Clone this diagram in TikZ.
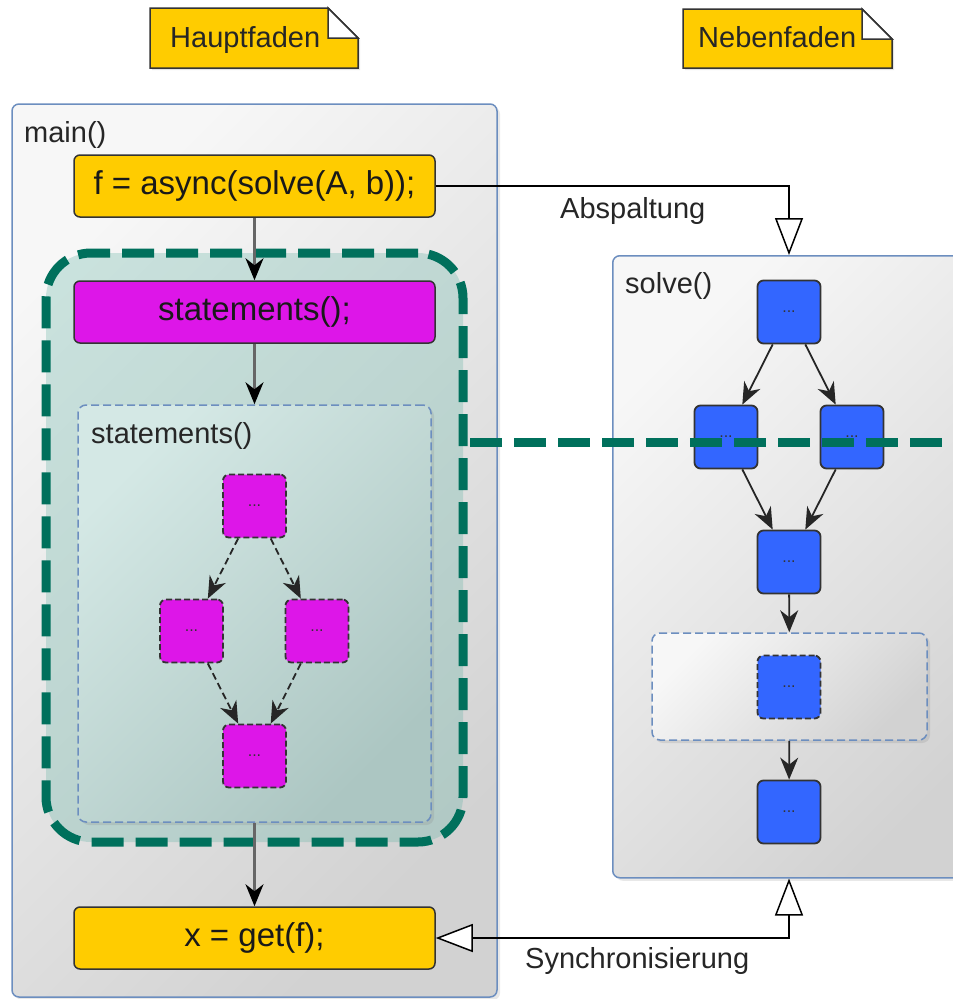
\documentclass[tikz,border=0pt]{standalone}
\usepackage{fontspec}
\setmainfont{Liberation Sans}
\usetikzlibrary{arrows.meta,shadows,calc}

\definecolor{ylw}{RGB}{255,204,0}
\definecolor{mag}{RGB}{221,22,232}
\definecolor{blu}{RGB}{51,102,255}
\definecolor{framec}{RGB}{108,142,191}
\definecolor{grn}{RGB}{0,112,92}
\definecolor{edge}{RGB}{51,51,51}
\definecolor{tealfill}{RGB}{100,180,165}
\definecolor{lite}{RGB}{247,247,247}
\definecolor{dark}{RGB}{210,210,210}
\definecolor{tlA}{RGB}{212,232,229}
\definecolor{tlB}{RGB}{172,198,194}

\tikzset{
  opentri/.tip={Triangle[length=37pt,width=28pt,fill=white,line width=1.5pt]},
}

\begin{document}
\begin{tikzpicture}[x=1pt,y=-1pt,
  lbl/.style={font=\fontsize{29}{34}\selectfont, text=black!85, inner sep=0pt},
  code/.style={font=\fontsize{33}{38}\selectfont, text=black!90, draw=edge, line width=1.5pt,
    rounded corners=6pt, minimum width=361pt, minimum height=62pt, inner sep=0pt},
  dots/.style={font=\fontsize{16}{18}\selectfont, text=black!80},
  container/.style={draw=framec, line width=1.5pt, rounded corners=7pt,
    top color=lite, bottom color=dark, shading angle=45, inner sep=0pt,
    drop shadow={shadow xshift=3pt, shadow yshift=-3pt, opacity=0.18}},
  subbox/.style={draw=framec, line width=1.5pt, dash pattern=on 8pt off 4pt, rounded corners=8pt,
    inner sep=0pt, drop shadow={shadow xshift=3pt, shadow yshift=-3pt, opacity=0.2}},
  cluster/.style={draw=grn, line width=9pt, dash pattern=on 32pt off 12pt, rounded corners=45pt,
    fill=tealfill, fill opacity=0.3, inner sep=0pt},
  cutline/.style={draw=grn, line width=9pt, dash pattern=on 32pt off 12pt},
  sq/.style={minimum size=63pt, rounded corners=6pt, draw=edge, line width=1.8pt, inner sep=0pt,
    dots},
  magsq/.style={sq, fill=mag, dash pattern=on 6pt off 3pt},
  blusq/.style={sq, fill=blu},
  notepaper/.style={fill=ylw, draw=edge, line width=1.5pt, line join=miter,
    drop shadow={shadow xshift=2pt, shadow yshift=-2pt, opacity=0.2}},
  notefold/.style={fill=white, draw=edge, line width=1.5pt},
  flowc/.style={draw=black!60, line width=2.2pt, -{Stealth[length=22pt,width=18pt,inset=7pt,color=black]}},
  inarr/.style={draw=black!85, line width=1.8pt, -{Stealth[length=22pt,width=18pt,inset=7pt]}},
  dasharr/.style={inarr, dash pattern=on 7pt off 4pt},
  thread/.style={draw=black, line width=2.4pt},
]
\useasboundingbox (0,0) rectangle (953,999);
\begin{scope}
\clip (0,0) rectangle (953,999);
\fill[white] (0,0) rectangle (953,999);

% thread notes
\draw[notepaper] (150,8) -- (328,8) -- (358,38) -- (358,68) -- (150,68) -- cycle;
\filldraw[notefold] (328,8) -- (328,38) -- (358,38) -- cycle;
\node[lbl, anchor=base west] (hf) at (170,47) {Hauptfaden};

\draw[notepaper] (683,9) -- (862,9) -- (892,39) -- (892,68) -- (683,68) -- cycle;
\filldraw[notefold] (862,9) -- (862,39) -- (892,39) -- cycle;
\node[lbl, anchor=base west] (nf) at (698,47) {Nebenfaden};

% main thread
\node[container, minimum width=485pt, minimum height=893pt] (main) at (254.5,550.5) {};
\node[lbl, anchor=base west] (mainlbl) at (24,142) {main()};

\node[code, fill=ylw] (fbox) at (254.5,186) {f = async(solve(A, b));};

\node[cluster, minimum width=417pt, minimum height=589pt] (grp) at (254.5,547.5) {};

\node[code, fill=mag] (stbox) at (254.5,312) {statements();};

\node[subbox, top color=tlA, bottom color=tlB, shading angle=45,
  minimum width=353pt, minimum height=417pt] (stm) at (254.5,613.5) {};
\node[lbl, anchor=base west] (stmlbl) at (91,443) {statements()};

\node[magsq] (m1) at (254.5,506) {...};
\node[magsq] (m2) at (191.5,631) {...};
\node[magsq] (m3) at (317,631) {...};
\node[magsq] (m4) at (254.5,756) {...};
\draw[dasharr] (m1) -- (m2);
\draw[dasharr] (m1) -- (m3);
\draw[dasharr] (m2) -- (m4);
\draw[dasharr] (m3) -- (m4);

\node[code, fill=ylw] (xbox) at (254.5,938) {x = get(f);};

\draw[flowc] (fbox) -- (stbox);
\draw[flowc] (stbox) -- (stm);
\draw[flowc] (stm) -- (xbox);

% worker thread
\node[container, anchor=north west, minimum width=390pt, minimum height=622pt] (solve) at (612,255) {};
\node[lbl, anchor=base west] (solvelbl) at (625,293) {solve()};

\node[blusq] (s1) at (789,312) {...};
\node[blusq] (s2) at (726,437) {...};
\node[blusq] (s3) at (852,437) {...};
\node[blusq] (s4) at (789,562) {...};
\node[subbox, top color=lite, bottom color=dark, shading angle=45,
  minimum width=275pt, minimum height=107pt] (sub) at (789.5,686.5) {};
\node[blusq, dash pattern=on 6pt off 3pt] (s5) at (789,687) {...};
\node[blusq] (s6) at (789,812) {...};

\draw[inarr] (s1) -- (s2);
\draw[inarr] (s1) -- (s3);
\draw[inarr] (s2) -- (s4);
\draw[inarr] (s3) -- (s4);
\draw[inarr] (s4) -- (sub);
\draw[inarr] (sub) -- (s6);

% spawning and joining
\draw[thread, -opentri] (fbox.east) -| (solve.north -| s1);
\node[lbl, anchor=base west] (spawnlbl) at (560,218) {Abspaltung};
\draw[thread, opentri-opentri] (xbox.east) -| (solve.south -| s1);
\node[lbl, anchor=base west] (joinlbl) at (525,968) {Synchronisierung};

% cut line
\coordinate (cutL) at (470,442);
\coordinate (cutR) at (975,442);
\draw[cutline] (cutL) -- (cutR);
\end{scope}
\end{tikzpicture}
\end{document}
